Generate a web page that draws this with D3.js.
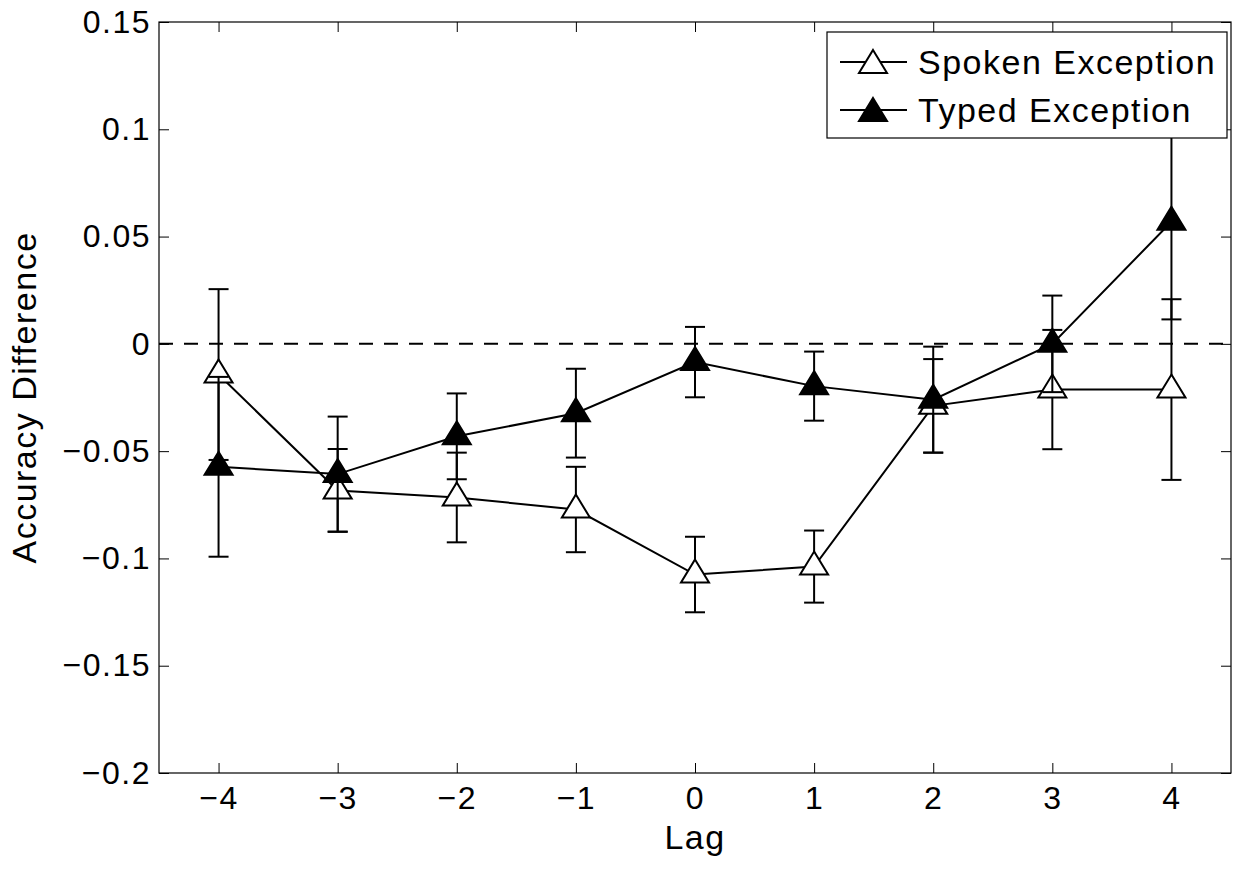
<!DOCTYPE html>
<html>
<head>
<meta charset="utf-8">
<script src="https://cdn.jsdelivr.net/npm/d3@7"></script>
<style>
body{margin:0;background:#fff}
text{font-family:"Liberation Sans",Arial,Helvetica,sans-serif;fill:#000;letter-spacing:1.5px}
</style>
</head>
<body>
<div id="grafica"></div>
<script>
// datos
var lags=[-4,-3,-2,-1,0,1,2,3,4]
var spoken=[-0.0143,-0.0683,-0.0716,-0.0772,-0.1075,-0.1038,-0.0289,-0.0213,-0.0213]
var spokenErr=[0.0398,0.0193,0.0209,0.0199,0.0176,0.0168,0.0218,0.0278,0.0421]
var typed=[-0.0573,-0.0607,-0.0431,-0.0323,-0.0085,-0.0197,-0.0260,0.0000,0.0569]
var typedErr=[0.0419,0.0268,0.0200,0.0207,0.0164,0.0161,0.0247,0.0225,0.0455]
var yTicks=[-0.2,-0.15,-0.1,-0.05,0,0.05,0.1,0.15]
var yTickLabels=["\u22120.2","\u22120.15","\u22120.1","\u22120.05","0","0.05","0.1","0.15"]
var xTickLabels=["\u22124","\u22123","\u22122","\u22121","0","1","2","3","4"]
var serieNombres=["Spoken Exception","Typed Exception"]
var serieRellenos=["#fff","#000"]

grafica();

function grafica(){
	var margin={top:22,bottom:96,left:159,right:10}
	var W=1241,H=869
	var ancho=W-margin.left-margin.right
	var alto=H-margin.top-margin.bottom

	var svg=d3.select("#grafica")
		.append("svg")
		.attr("width",W)
		.attr("height",H)
		.append("g")
		.attr("transform","translate("+margin.left+","+margin.top+")")

	var escalaX=d3.scaleLinear().domain([-4.5,4.5]).range([0,ancho])
	var escalaY=d3.scaleLinear().domain([-0.2,0.15]).range([alto,0])

	//armo las series
	var series=[
		{nombre:serieNombres[0],relleno:serieRellenos[0],datos:lags.map((l,i)=>({x:l,y:spoken[i],e:spokenErr[i]}))},
		{nombre:serieNombres[1],relleno:serieRellenos[1],datos:lags.map((l,i)=>({x:l,y:typed[i],e:typedErr[i]}))}
	]

	//ejes con ticks hacia adentro
	var ejeY=svg.append("g")
		.call(d3.axisLeft(escalaY).tickValues(yTicks).tickSizeInner(-10).tickSizeOuter(0).tickPadding(8)
			.tickFormat((d,i)=>yTickLabels[i]))
	var ejeX=svg.append("g")
		.attr("transform","translate(0,"+alto+")")
		.call(d3.axisBottom(escalaX).tickValues(lags).tickSizeInner(-10).tickSizeOuter(0).tickPadding(13)
			.tickFormat((d,i)=>xTickLabels[i]))
	svg.append("g")
		.call(d3.axisTop(escalaX).tickValues(lags).tickSizeInner(-10).tickSizeOuter(0).tickFormat(""))
	svg.append("g")
		.attr("transform","translate("+ancho+",0)")
		.call(d3.axisRight(escalaY).tickValues(yTicks).tickSizeInner(-10).tickSizeOuter(0).tickFormat(""))
	svg.selectAll(".domain").remove()
	svg.selectAll(".tick line").style("stroke","#000").style("stroke-width","1px")
	svg.selectAll(".tick text").style("font-size","32px").style("font-family",null)

	svg.append("rect")
		.attr("x",0).attr("y",0)
		.attr("width",ancho).attr("height",alto)
		.style("fill","none").style("stroke","#000").style("stroke-width","1.2px")

	//linea punteada en cero
	svg.append("line")
		.attr("x1",0).attr("x2",ancho)
		.attr("y1",escalaY(0)).attr("y2",escalaY(0))
		.style("stroke","#000").style("stroke-width","2px").style("stroke-dasharray","14,11")

	var triangulo="M0,-15L14,8L-14,8Z"
	var linea=d3.line().x(d=>escalaX(d.x)).y(d=>escalaY(d.y))

	series.forEach(function(s){
		var g=svg.append("g")
		//barras de error
		var eb=g.selectAll(".eb").data(s.datos).enter().append("g")
		eb.append("line")
			.attr("x1",d=>escalaX(d.x)).attr("x2",d=>escalaX(d.x))
			.attr("y1",d=>escalaY(d.y+d.e)).attr("y2",d=>escalaY(d.y-d.e))
		eb.append("line")
			.attr("x1",d=>escalaX(d.x)-10).attr("x2",d=>escalaX(d.x)+10)
			.attr("y1",d=>escalaY(d.y+d.e)).attr("y2",d=>escalaY(d.y+d.e))
		eb.append("line")
			.attr("x1",d=>escalaX(d.x)-10).attr("x2",d=>escalaX(d.x)+10)
			.attr("y1",d=>escalaY(d.y-d.e)).attr("y2",d=>escalaY(d.y-d.e))
		eb.selectAll("line").style("stroke","#000").style("stroke-width","2px")

		g.append("path")
			.datum(s.datos)
			.attr("d",linea)
			.style("fill","none").style("stroke","#000").style("stroke-width","2px")

		g.selectAll(".marca").data(s.datos).enter().append("path")
			.attr("d",triangulo)
			.attr("transform",d=>"translate("+escalaX(d.x)+","+escalaY(d.y)+")")
			.style("fill",s.relleno).style("stroke","#000").style("stroke-width","2px")
	})

	//leyenda
	var ley=svg.append("g").attr("transform","translate("+(827-margin.left)+","+(32-margin.top)+")")
	ley.append("rect")
		.attr("width",400).attr("height",106)
		.style("fill","#fff").style("stroke","#000").style("stroke-width","1.2px")
	series.forEach(function(s,i){
		var yy=30+i*48
		ley.append("line").attr("x1",13).attr("x2",80).attr("y1",yy).attr("y2",yy)
			.style("stroke","#000").style("stroke-width","2px")
		ley.append("path").attr("d",triangulo)
			.attr("transform","translate(46,"+(yy+3)+")")
			.style("fill",s.relleno).style("stroke","#000").style("stroke-width","2px")
		ley.append("text").attr("x",91).attr("y",yy).attr("dy","0.36em")
			.style("font-size","34px").text(s.nombre)
	})

	//titulos de ejes
	svg.append("text")
		.attr("x",ancho/2).attr("y",alto+76)
		.attr("text-anchor","middle")
		.style("font-size","34px")
		.text("Lag")
	svg.append("text")
		.attr("transform","translate("+(-123)+","+(alto/2)+") rotate(-90)")
		.attr("text-anchor","middle")
		.style("font-size","34px")
		.text("Accuracy Difference")
}
</script>
</body>
</html>
